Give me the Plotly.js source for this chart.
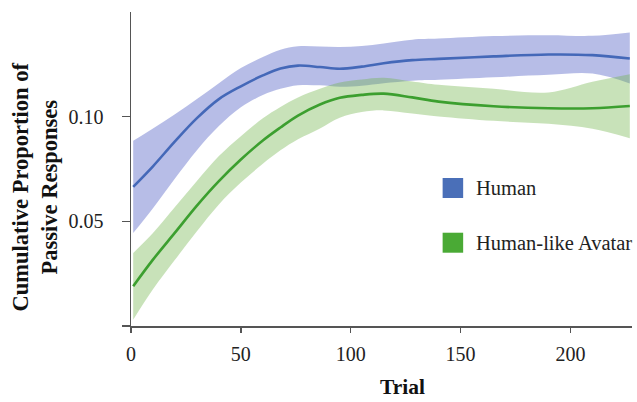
<!DOCTYPE html>
<html>
<head>
<meta charset="utf-8">
<script src="https://cdn.plot.ly/plotly-3.0.1.min.js"></script>
<style>html,body{margin:0;padding:0;background:#fff}#chart{width:637px;height:402px}</style>
</head>
<body>
<div id="chart"></div>
<script>
const trials = [1, 10, 20, 30, 40, 50, 60, 68, 76, 86, 95, 105, 115, 128, 140, 165, 190, 210, 227];

const humanMean  = [0.0665, 0.0763, 0.0882, 0.0993, 0.1084, 0.1145, 0.1197, 0.1230, 0.1244, 0.1237, 0.1229, 0.1239, 0.1255, 0.1270, 0.1276, 0.1288, 0.1297, 0.1294, 0.1278];
const humanUpper = [0.0885, 0.0944, 0.1012, 0.1084, 0.1160, 0.1232, 0.1285, 0.1320, 0.1336, 0.1335, 0.1333, 0.1338, 0.1350, 0.1368, 0.1373, 0.1385, 0.1389, 0.1386, 0.1402];
const humanLower = [0.0444, 0.0563, 0.0705, 0.0840, 0.0955, 0.1045, 0.1103, 0.1133, 0.1150, 0.1150, 0.1143, 0.1148, 0.1160, 0.1172, 0.1176, 0.1188, 0.1200, 0.1206, 0.1159];

const avatarMean  = [0.0190, 0.0317, 0.0446, 0.0575, 0.0692, 0.0795, 0.0886, 0.0948, 0.1005, 0.1058, 0.1090, 0.1104, 0.1110, 0.1092, 0.1072, 0.1050, 0.1040, 0.1040, 0.1051];
const avatarUpper = [0.0349, 0.0444, 0.0568, 0.0693, 0.0812, 0.0907, 0.0992, 0.1046, 0.1092, 0.1133, 0.1163, 0.1178, 0.1186, 0.1168, 0.1152, 0.1133, 0.1116, 0.1167, 0.1203];
const avatarLower = [0.0030, 0.0175, 0.0316, 0.0453, 0.0581, 0.0685, 0.0775, 0.0839, 0.0892, 0.0944, 0.0995, 0.1022, 0.1030, 0.1015, 0.1001, 0.0980, 0.0966, 0.0942, 0.0897];

const seriesNames = ["Human", "Human-like Avatar"];
const yTickVals = [0, 0.05, 0.10];
const yTickText = ["", "0.05", "0.10"];
const xTickVals = [0, 50, 100, 150, 200];

const FONT = '"Liberation Serif", "Times New Roman", Times, serif';
const BLUE = '#4468b8', BLUE_FILL = 'rgba(75,90,195,0.40)';
const GREEN = '#3c9f2f', GREEN_FILL = 'rgba(110,180,70,0.38)';

function band(upper, lower, fill) {
  return [
    {x: trials, y: upper, mode: 'lines', line: {width: 0, shape: 'spline', smoothing: 1, color: fill}, hoverinfo: 'skip', showlegend: false},
    {x: trials, y: lower, mode: 'lines', line: {width: 0, shape: 'spline', smoothing: 1, color: fill}, fill: 'tonexty', fillcolor: fill, hoverinfo: 'skip', showlegend: false}
  ];
}

const data = [
  ...band(humanUpper, humanLower, BLUE_FILL),
  ...band(avatarUpper, avatarLower, GREEN_FILL),
  {x: trials, y: humanMean, mode: 'lines', name: seriesNames[0], line: {color: BLUE, width: 2.6, shape: 'spline', smoothing: 1}, showlegend: false},
  {x: trials, y: avatarMean, mode: 'lines', name: seriesNames[1], line: {color: GREEN, width: 2.6, shape: 'spline', smoothing: 1}, showlegend: false}
];

const legendX0 = 0.622, legendX1 = 0.663, legendTextX = 0.685;
const legendRows = [
  {y0: 0.4076, y1: 0.4713, color: '#4a6fb8', name: seriesNames[0]},
  {y0: 0.2334, y1: 0.2971, color: '#4aaa35', name: seriesNames[1]}
];

const layout = {
  width: 637, height: 402,
  margin: {l: 131, r: 5, t: 12, b: 76},
  paper_bgcolor: '#fff', plot_bgcolor: '#fff',
  font: {family: FONT, size: 20, color: '#222'},
  showlegend: false,
  xaxis: {
    range: [0, 228], tickvals: xTickVals, ticks: 'outside', ticklen: 5, tickwidth: 1.5, tickcolor: '#555',
    showline: true, linecolor: '#555', linewidth: 1.5, showgrid: false, zeroline: false,
    tickfont: {family: FONT, size: 20, color: '#222'}, ticklabelstandoff: 4
  },
  yaxis: {
    range: [0, 0.15], tickvals: yTickVals, ticktext: yTickText, ticks: 'outside', ticklen: 8, tickwidth: 1.5, tickcolor: '#555',
    showline: true, linecolor: '#555', linewidth: 1.5, showgrid: false, zeroline: false,
    tickfont: {family: FONT, size: 20, color: '#222'}, ticklabelstandoff: 14
  },
  shapes: legendRows.map(r => ({type: 'rect', xref: 'paper', yref: 'paper', x0: legendX0, x1: legendX1, y0: r.y0, y1: r.y1, fillcolor: r.color, line: {width: 0}})),
  annotations: [
    ...legendRows.map(r => ({xref: 'paper', yref: 'paper', x: legendTextX, y: (r.y0 + r.y1) / 2, xanchor: 'left', yanchor: 'middle', text: r.name, showarrow: false, font: {family: FONT, size: 20.5, color: '#222'}})),
    {xref: 'paper', yref: 'paper', x: 0.5423, y: -0.194, xanchor: 'center', yanchor: 'middle', text: '<b>Trial</b>', showarrow: false, font: {family: FONT, size: 21.5, color: '#111'}},
    {xref: 'paper', yref: 'paper', x: -0.1922, y: 0.4436, xanchor: 'center', yanchor: 'middle', textangle: -90, text: '<b>Cumulative Proportion of<br>Passive Responses</b>', showarrow: false, font: {family: FONT, size: 22.5, color: '#111'}}
  ]
};

Plotly.newPlot('chart', data, layout, {staticPlot: true, displayModeBar: false});
</script>
</body>
</html>
